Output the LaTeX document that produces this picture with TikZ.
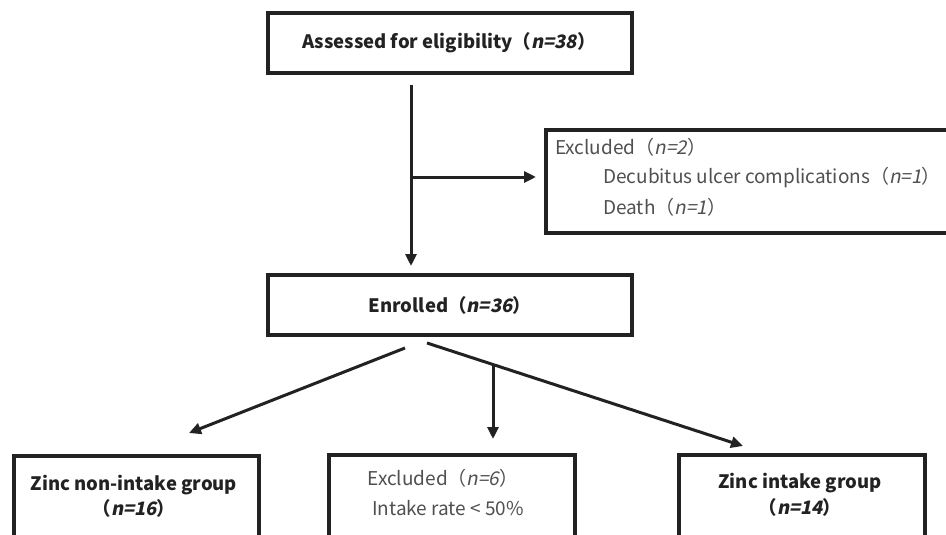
\documentclass[tikz,border=0pt]{standalone}
\usepackage{fontspec}
\newfontfamily\jp{Noto Sans CJK JP}[ItalicFont={*},ItalicFeatures={FakeSlant=0.2},BoldItalicFont={*/B},BoldItalicFeatures={FakeSlant=0.2}]
\usetikzlibrary{arrows.meta}
\definecolor{ink}{HTML}{222222}
\definecolor{lite}{HTML}{505050}
\begin{document}
\begin{tikzpicture}[x=1pt,y=-1pt,
  boxline/.style={draw=ink,line width=4pt},
  mainlbl/.style={font=\jp\bfseries\fontsize{18.5}{22}\selectfont,text=ink,inner sep=0pt},
  sublbl/.style={font=\jp\fontsize{19}{22}\selectfont,text=lite,inner sep=0pt,anchor=west},
  conn/.style={draw=ink,line width=3pt,-{Triangle[length=12pt,width=11pt]}}]
\clip (0,0) rectangle (946,535);
\useasboundingbox (0,0) rectangle (946,535);
\fill[white] (0,0) rectangle (946,535);
% boxes
\node[boxline,minimum width=364pt,minimum height=60pt,inner sep=0pt] (top) at (450,43) {};
\node[boxline,minimum width=364pt,minimum height=60pt,inner sep=0pt] (enr) at (450,305) {};
\node[boxline,minimum width=416pt,minimum height=103pt,inner sep=0pt,anchor=north west] (exc) at (544,128) {};
\node[boxline,minimum width=245pt,minimum height=110pt,inner sep=0pt,anchor=north west] (left) at (12,454) {};
\node[boxline,minimum width=246pt,minimum height=110pt,inner sep=0pt,anchor=north west] (mid) at (327,453) {};
\node[boxline,minimum width=246pt,minimum height=110pt,inner sep=0pt,anchor=north west] (right) at (677,453) {};
% texts
\node[mainlbl] (toptxt) at (449,43) {Assessed for eligibility（{\itshape n=38}）};
\node[mainlbl] (enrtxt) at (450,305) {Enrolled（{\itshape n=36}）};
\node[sublbl] (ex1) at (555,147) {Excluded（{\itshape n=2}）};
\node[sublbl] (ex2) at (603,178) {Decubitus ulcer complications（{\itshape n=1}）};
\node[sublbl] (ex3) at (603,207) {Death（{\itshape n=1}）};
\node[mainlbl] (l1) at (134,485) {Zinc non-intake group};
\node[mainlbl] (l2) at (134,508) {（{\itshape n=16}）};
\node[sublbl,anchor=center] (m1) at (443,478) {Excluded（{\itshape n=6}）};
\node[sublbl,anchor=center] (m2) at (448,508) {Intake rate < 50\%};
\node[mainlbl] (r1) at (800,483) {Zinc intake group};
\node[mainlbl] (r2) at (800,507) {（{\itshape n=14}）};
% connector points
\coordinate (vA) at (411,85);
\coordinate (vB) at (411,266);
\coordinate (hA) at (411,177);
\coordinate (hB) at (536,177);
\coordinate (lA) at (405,348);
\coordinate (lB) at (189,433);
\coordinate (rA) at (427,343);
\coordinate (rB) at (743,446);
\coordinate (mA) at (493,364.5);
\coordinate (mB) at (493,439);
\draw[conn] (vA) -- (vB);
\draw[conn] (hA) -- (hB);
\draw[conn] (lA) -- (lB);
\draw[conn] (rA) -- (rB);
\draw[conn] (mA) -- (mB);
\end{tikzpicture}
\end{document}
